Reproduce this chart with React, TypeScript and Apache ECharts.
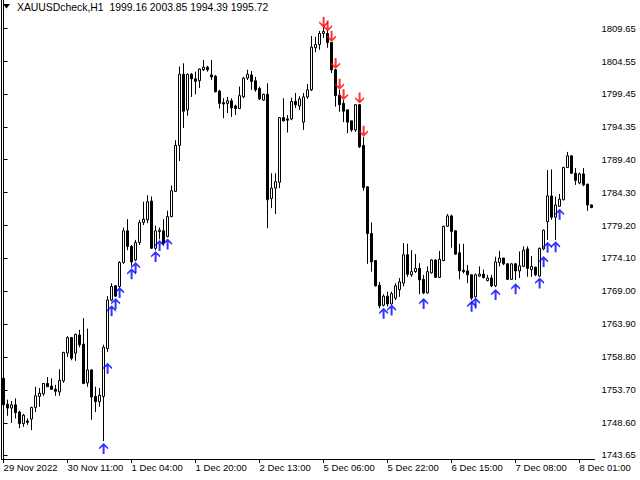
import React, { useEffect, useRef } from "react";
import * as echarts from "echarts";

const FONT = "'Liberation Sans', Arial, sans-serif";

// bar index of each candle = position in these arrays (H1 bars)
const opens = [
  1755.5, 1751.5, 1750.9, 1751.4, 1750.3, 1748.5, 1748.9, 1749.2, 1751.0, 1752.7,
  1753.1, 1754.7, 1754.3, 1753.8, 1753.4, 1755.1, 1759.4, 1761.8, 1759.4, 1762.2,
  1760.8, 1754.8, 1756.8, 1752.7, 1751.9, 1752.7, 1760.1, 1767.6, 1769.8, 1769.7,
  1773.4, 1778.3, 1775.9, 1773.8, 1776.5, 1779.6, 1780.0, 1782.9, 1775.6, 1778.2,
  1778.3, 1777.4, 1780.5, 1784.4, 1791.5, 1802.5, 1797.0, 1802.5, 1801.8, 1801.5,
  1803.2, 1803.6, 1802.4, 1802.2, 1799.9, 1798.1, 1798.0, 1798.4, 1797.6, 1797.2,
  1799.0, 1801.9, 1802.4, 1801.5, 1800.3, 1798.5, 1799.4, 1783.3, 1784.9, 1785.8,
  1795.8, 1795.6, 1795.6, 1798.3, 1797.6, 1795.1, 1799.0, 1800.1, 1806.6, 1807.1,
  1808.8, 1808.8, 1807.4, 1803.2, 1799.3, 1798.0, 1797.0, 1795.3, 1793.9, 1797.8,
  1791.5, 1785.1, 1777.9, 1773.7, 1769.9, 1766.8, 1768.2, 1767.0, 1767.9, 1769.2,
  1770.2, 1774.6, 1771.5, 1772.0, 1772.5, 1770.8, 1768.7, 1771.8, 1773.8, 1771.1,
  1773.7, 1779.0, 1780.6, 1778.3, 1774.9, 1772.2, 1772.1, 1771.5, 1768.1, 1771.3,
  1771.6, 1770.6, 1771.0, 1769.8, 1773.4, 1774.1, 1773.2, 1770.8, 1773.2, 1772.1,
  1772.8, 1775.5, 1772.3, 1772.7, 1771.3, 1775.5, 1779.7, 1783.7, 1780.4, 1782.1,
  1783.1, 1788.1, 1789.9, 1787.2, 1785.7, 1787.1, 1785.5, 1782.3,
];
const highs = [
  1755.6, 1752.2, 1752.0, 1752.4, 1750.5, 1750.0, 1749.3, 1751.1, 1754.2, 1754.0,
  1754.8, 1755.7, 1755.5, 1754.5, 1756.9, 1759.6, 1762.0, 1761.9, 1762.4, 1763.0,
  1764.8, 1763.2, 1756.9, 1754.2, 1754.0, 1760.7, 1768.2, 1770.2, 1769.9, 1773.6,
  1778.8, 1780.1, 1776.1, 1776.9, 1780.0, 1782.8, 1783.8, 1783.6, 1779.1, 1778.8,
  1780.1, 1781.4, 1785.3, 1792.3, 1803.7, 1804.2, 1802.6, 1802.7, 1802.9, 1803.4,
  1804.7, 1803.8, 1804.7, 1802.4, 1800.1, 1798.8, 1799.0, 1798.8, 1797.8, 1800.6,
  1802.1, 1803.2, 1803.0, 1802.1, 1800.6, 1799.5, 1801.1, 1787.2, 1787.2, 1795.9,
  1798.8, 1796.2, 1798.9, 1799.6, 1799.1, 1799.6, 1801.0, 1808.4, 1808.3, 1809.2,
  1809.9, 1809.3, 1807.5, 1803.3, 1800.1, 1798.5, 1797.0, 1795.3, 1797.9, 1797.9,
  1792.8, 1785.2, 1779.6, 1773.7, 1770.4, 1768.5, 1768.9, 1768.9, 1770.2, 1771.0,
  1776.4, 1776.3, 1775.3, 1774.7, 1773.3, 1771.5, 1772.8, 1773.9, 1773.9, 1775.2,
  1779.1, 1780.9, 1780.8, 1778.4, 1776.3, 1776.3, 1773.0, 1771.6, 1771.7, 1772.8,
  1772.3, 1771.5, 1771.5, 1774.3, 1775.2, 1774.1, 1773.3, 1773.3, 1773.3, 1775.1,
  1775.9, 1775.9, 1774.4, 1772.7, 1775.7, 1778.5, 1787.7, 1787.8, 1783.6, 1784.0,
  1788.2, 1790.5, 1790.0, 1788.0, 1787.3, 1788.0, 1785.6, 1782.4,
];
const lows = [
  1749.5, 1749.7, 1748.6, 1749.3, 1747.8, 1748.0, 1748.3, 1747.5, 1750.3, 1751.1,
  1752.8, 1754.2, 1753.7, 1752.8, 1752.8, 1754.8, 1758.8, 1758.3, 1758.2, 1760.3,
  1754.6, 1754.2, 1749.1, 1750.3, 1751.1, 1745.8, 1759.6, 1767.4, 1768.1, 1769.5,
  1773.2, 1775.3, 1772.9, 1773.6, 1776.1, 1779.2, 1779.5, 1775.5, 1775.3, 1777.0,
  1776.1, 1777.3, 1780.4, 1784.3, 1789.1, 1794.2, 1796.1, 1799.0, 1799.4, 1800.4,
  1803.0, 1802.9, 1801.6, 1799.7, 1797.2, 1795.7, 1796.5, 1795.9, 1796.2, 1797.2,
  1798.8, 1801.6, 1800.1, 1799.8, 1798.5, 1798.4, 1778.7, 1781.8, 1780.9, 1784.9,
  1795.2, 1793.5, 1795.4, 1797.3, 1797.0, 1793.9, 1798.7, 1799.9, 1805.9, 1806.3,
  1808.1, 1806.6, 1802.7, 1797.5, 1796.7, 1795.1, 1793.4, 1793.6, 1793.6, 1791.1,
  1784.5, 1773.2, 1772.0, 1769.7, 1766.3, 1766.6, 1766.6, 1766.9, 1767.6, 1768.1,
  1769.7, 1771.2, 1771.2, 1771.8, 1768.5, 1768.5, 1768.6, 1771.7, 1771.0, 1771.0,
  1773.6, 1778.9, 1775.7, 1774.6, 1770.8, 1771.7, 1770.2, 1767.6, 1768.0, 1771.2,
  1770.9, 1770.5, 1769.6, 1769.6, 1772.8, 1773.0, 1770.7, 1770.7, 1770.7, 1771.0,
  1772.7, 1771.2, 1771.2, 1771.3, 1771.2, 1775.3, 1776.9, 1780.0, 1776.9, 1782.0,
  1783.0, 1788.0, 1787.1, 1785.4, 1785.5, 1785.2, 1781.4, 1781.8,
];
const closes = [
  1751.4, 1750.9, 1751.4, 1750.2, 1748.5, 1749.8, 1748.7, 1751.0, 1752.8, 1753.2,
  1754.7, 1754.2, 1753.8, 1753.5, 1755.2, 1759.5, 1761.8, 1758.6, 1762.3, 1760.7,
  1754.7, 1756.8, 1752.6, 1751.9, 1752.9, 1760.3, 1767.6, 1769.7, 1768.2, 1773.4,
  1778.3, 1775.9, 1773.5, 1776.5, 1779.6, 1780.1, 1782.8, 1775.6, 1778.3, 1778.4,
  1776.4, 1780.5, 1784.5, 1791.5, 1802.5, 1796.8, 1802.5, 1801.8, 1801.4, 1803.3,
  1803.6, 1803.2, 1802.1, 1799.8, 1798.0, 1797.9, 1798.4, 1797.3, 1797.2, 1799.2,
  1801.9, 1802.5, 1801.4, 1800.1, 1798.7, 1799.4, 1783.1, 1784.9, 1785.9, 1795.8,
  1795.3, 1795.4, 1798.3, 1797.8, 1798.7, 1799.0, 1800.1, 1806.7, 1807.1, 1808.8,
  1809.1, 1807.4, 1803.2, 1799.2, 1797.8, 1796.8, 1795.1, 1793.9, 1797.8, 1791.3,
  1785.0, 1777.9, 1773.5, 1769.8, 1766.7, 1768.2, 1767.0, 1768.6, 1769.8, 1770.4,
  1774.6, 1771.6, 1772.0, 1772.5, 1770.7, 1768.7, 1772.0, 1773.8, 1771.1, 1773.9,
  1779.0, 1780.6, 1778.2, 1774.7, 1772.1, 1772.0, 1771.5, 1767.9, 1771.5, 1771.6,
  1771.1, 1771.0, 1769.8, 1773.5, 1774.1, 1773.2, 1770.8, 1773.2, 1772.1, 1772.9,
  1775.3, 1772.5, 1772.8, 1771.5, 1775.6, 1778.4, 1783.7, 1780.4, 1782.3, 1783.2,
  1788.1, 1789.9, 1787.2, 1786.1, 1787.1, 1785.4, 1782.3, 1781.9,
];

// signal arrows: bar index and price of the arrow tip
const buyArrowBars = [25, 26, 27, 28, 29, 32, 33, 38, 39, 41, 95, 97, 105, 117, 118, 123, 128, 134, 135, 136, 138, 139];
const buyArrowPrices = [1745.5, 1757.9, 1766.8, 1767.9, 1769.6, 1772.5, 1773.5, 1775.2, 1776.9, 1777.1, 1766.4, 1766.9, 1767.9, 1767.5, 1768.0, 1769.3, 1770.2, 1771.1, 1774.4, 1776.6, 1776.7, 1781.7];
const sellArrowBars = [80, 81, 82, 83, 84, 85, 89, 90];
const sellArrowPrices = [1809.7, 1809.1, 1807.5, 1803.3, 1800.1, 1798.5, 1798.0, 1792.85];

// axis ticks
const timeTickBars = [0, 16, 32, 48, 64, 80, 96, 112, 128, 144];
const timeTickLabels = [
  "29 Nov 2022", "30 Nov 11:00", "1 Dec 04:00", "1 Dec 20:00", "2 Dec 13:00",
  "5 Dec 06:00", "5 Dec 22:00", "6 Dec 15:00", "7 Dec 08:00", "8 Dec 01:00",
];
const priceTicks = [
  1809.65, 1804.55, 1799.45, 1794.35, 1789.4, 1784.3, 1779.2, 1774.1, 1769.0,
  1763.9, 1758.8, 1753.7, 1748.6, 1743.65,
];

const TITLE = "XAUUSDcheck,H1  1999.16 2003.85 1994.39 1995.72";

const UP_ARROW = "path://M4.5 0 L9 4.5 L9 6.5 L5.5 3.5 L5.5 11 L3.5 11 L3.5 3.5 L0 6.5 L0 4.5 Z";
const DOWN_ARROW = "path://M4.5 11 L9 6.5 L9 4.5 L5.5 7.5 L5.5 0 L3.5 0 L3.5 7.5 L0 4.5 L0 6.5 Z";

export default function App() {
  const ref = useRef<HTMLDivElement>(null);
  useEffect(() => {
    if (!ref.current) return;
    const chart = echarts.init(ref.current, null, { renderer: "svg" });
    const candles = opens.map((o, i) => [i, o, closes[i], lows[i], highs[i]]);
    const buys = buyArrowBars.map((b, i) => [b, buyArrowPrices[i]]);
    const sells = sellArrowBars.map((b, i) => [b, sellArrowPrices[i]]);
    const yMin = 1743.03;
    const yMax = 1813.98;
    chart.setOption({
      animation: false,
      backgroundColor: "#ffffff",
      grid: { left: 1.5, right: 45.5, top: 0, bottom: 21, containLabel: false },
      xAxis: {
        type: "value",
        min: -0.525,
        max: 147.725,
        axisLine: { show: true, onZero: false, lineStyle: { color: "#000", width: 1 } },
        axisTick: { show: true, customValues: timeTickBars, length: 4, lineStyle: { color: "#000" } },
        axisLabel: {
          customValues: timeTickBars,
          formatter: (v: number) => timeTickLabels[timeTickBars.indexOf(Math.round(v))] ?? "",
          align: "left",
          margin: 3,
          color: "#000",
          fontSize: 9.5,
          fontFamily: FONT,
        },
        splitLine: { show: false },
      },
      yAxis: [
        {
          type: "value",
          position: "right",
          min: yMin,
          max: yMax,
          axisLine: { show: true, lineStyle: { color: "#000", width: 1 } },
          axisTick: { show: true, customValues: priceTicks, length: 4, lineStyle: { color: "#000" } },
          axisLabel: {
            customValues: priceTicks,
            formatter: (v: number) => v.toFixed(2),
            margin: 7,
            color: "#000",
            fontSize: 9.5,
            fontFamily: FONT,
          },
          splitLine: { show: false },
        },
        {
          type: "value",
          position: "left",
          min: yMin,
          max: yMax,
          axisLine: { show: true, lineStyle: { color: "#000", width: 1 } },
          axisTick: { show: false },
          axisLabel: { show: false },
          splitLine: { show: false },
        },
      ],
      series: [
        {
          type: "candlestick",
          data: candles,
          encode: { x: 0, y: [1, 2, 3, 4] },
          barWidth: 2,
          itemStyle: {
            color: "#ffffff",
            color0: "#000000",
            borderColor: "#000000",
            borderColor0: "#000000",
            borderColorDoji: "#000000",
            borderWidth: 1,
          },
        },
        {
          type: "scatter",
          data: buys,
          symbol: UP_ARROW,
          symbolSize: [9, 11],
          symbolOffset: [0, 5.5],
          itemStyle: { color: "#0000ff" },
          z: 5,
        },
        {
          type: "scatter",
          data: sells,
          symbol: DOWN_ARROW,
          symbolSize: [9, 11],
          symbolOffset: [0, -5.5],
          itemStyle: { color: "#ff0000" },
          z: 5,
        },
      ],
      graphic: [
        { type: "polygon", shape: { points: [[3, 4], [10, 4], [6.5, 8.5]] }, style: { fill: "#000" } },
        {
          type: "text",
          left: 17,
          top: 2,
          style: { text: TITLE, font: `10.4px ${FONT}`, fill: "#000" },
        },
      ],
    });
    return () => chart.dispose();
  }, []);
  return (
    <div
      ref={ref}
      style={{ position: "fixed", left: 0, top: 0, width: 640, height: 480, background: "#fff" }}
    />
  );
}
